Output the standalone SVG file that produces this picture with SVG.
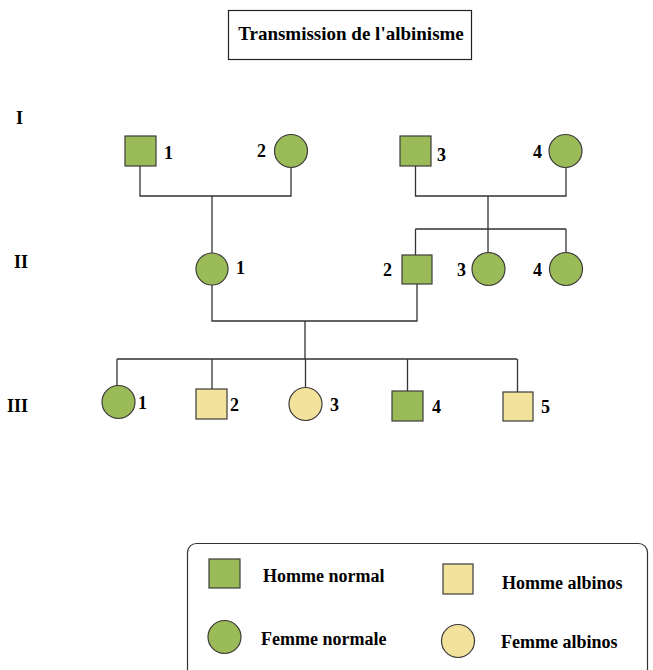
<svg xmlns="http://www.w3.org/2000/svg" width="653" height="670" viewBox="0 0 653 670">
<style>
text{font-family:"Liberation Serif","Times New Roman",serif;font-weight:bold;fill:#000}
.lbl{font-size:18px}
.gen{font-size:18px}
.leg{font-size:18px}
.g{fill:#9BBB59;stroke:#3b3b3b;stroke-width:1.2}
.y{fill:#F3E29C;stroke:#3b3b3b;stroke-width:1.2}
.ln{fill:none;stroke:#333;stroke-width:1.3}
</style>
<rect width="653" height="670" fill="#fff"/>
<g id="title">
<rect x="228.5" y="10.5" width="243" height="49" fill="#fff" stroke="#222" stroke-width="1.2"/>
<text x="351" y="40" text-anchor="middle" font-size="19">Transmission de l'albinisme</text>
</g>
<g id="gen-labels">
<text class="gen" x="16" y="124">I</text>
<text class="gen" x="14" y="268">II</text>
<text class="gen" x="7" y="412">III</text>
</g>
<g id="connectors">
<path class="ln" d="M140,166 V196 H291 V167 M212,196 V253"/>
<path class="ln" d="M415.5,166 V196 H566 V167 M488,196 V229 M415.5,229 H566 M415.5,229 V255 M488,229 V253 M566,229 V253"/>
<path class="ln" d="M212,285 V321 H417 V284 M305,321 V359 M117,359 H517 M117,359 V386 M212,359 V389 M305.5,359 V388 M407.5,359 V391 M517.5,359 V392"/>
</g>
<g id="I-1"><rect class="g" x="125" y="136" width="31" height="30"/><text class="lbl" x="164" y="159">1</text></g>
<g id="I-2"><circle class="g" cx="291" cy="151" r="16.5"/><text class="lbl" x="257" y="157">2</text></g>
<g id="I-3"><rect class="g" x="400" y="136" width="31" height="30"/><text class="lbl" x="437" y="161">3</text></g>
<g id="I-4"><circle class="g" cx="565.5" cy="151" r="16.5"/><text class="lbl" x="533" y="158">4</text></g>
<g id="II-1"><circle class="g" cx="212" cy="269" r="16"/><text class="lbl" x="236" y="274">1</text></g>
<g id="II-2"><rect class="g" x="402" y="255" width="30" height="29"/><text class="lbl" x="383" y="276">2</text></g>
<g id="II-3"><circle class="g" cx="488.5" cy="269" r="16.5"/><text class="lbl" x="457" y="276">3</text></g>
<g id="II-4"><circle class="g" cx="566" cy="269" r="16.5"/><text class="lbl" x="533" y="276">4</text></g>
<g id="III-1"><circle class="g" cx="118.5" cy="402" r="16.5"/><text class="lbl" x="138" y="409">1</text></g>
<g id="III-2"><rect class="y" x="196" y="389" width="31" height="30"/><text class="lbl" x="230" y="411">2</text></g>
<g id="III-3"><circle class="y" cx="305.5" cy="404" r="16.5"/><text class="lbl" x="330" y="411">3</text></g>
<g id="III-4"><rect class="g" x="392" y="391" width="31" height="30"/><text class="lbl" x="432" y="413">4</text></g>
<g id="III-5"><rect class="y" x="503" y="392" width="30" height="29"/><text class="lbl" x="541" y="413">5</text></g>
<g id="legend">
<rect x="187.5" y="543.5" width="460" height="150" rx="9" fill="#fff" stroke="#333" stroke-width="1.2"/>
<rect class="g" x="209" y="559" width="31" height="29"/>
<text class="leg" x="263" y="582">Homme normal</text>
<circle class="g" cx="224.5" cy="637" r="16.5"/>
<text class="leg" x="261" y="645">Femme normale</text>
<rect class="y" x="443" y="564" width="30" height="30"/>
<text class="leg" x="502" y="589">Homme albinos</text>
<circle class="y" cx="458" cy="641" r="16.5"/>
<text class="leg" x="501" y="648">Femme albinos</text>
</g>
</svg>
